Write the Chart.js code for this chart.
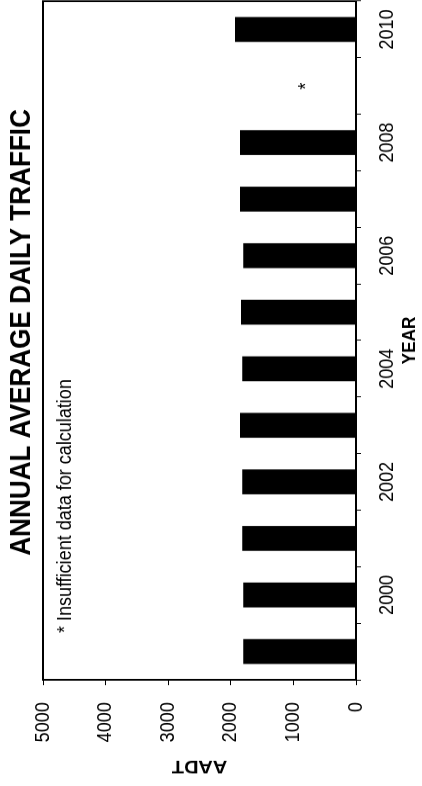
<!DOCTYPE html>
<html>
<head>
<meta charset="utf-8">
<script src="https://cdn.jsdelivr.net/npm/chart.js@4"></script>
<style>
  html, body { margin: 0; padding: 0; background: #fff; overflow: hidden; }
  #wrap {
    position: absolute;
    left: 0;
    top: 0;
    width: 873px;
    height: 422px;
    transform-origin: 0 0;
    /* chart is printed sideways and a bit squeezed along its width */
    transform: translate(0, 786px) rotate(-90deg) scaleX(0.9);
  }
</style>
</head>
<body>
<div id="wrap"><canvas id="aadtChart" width="873" height="422"></canvas></div>
<script>
// Data
const years = ["1999", "2000", "2001", "2002", "2003", "2004", "2005", "2006", "2007", "2008", "2009", "2010"];
const aadt = [1800, 1800, 1816, 1816, 1853, 1816, 1837, 1800, 1853, 1853, null, 1933];
const yTicks = [0, 1000, 2000, 3000, 4000, 5000];
const missingYear = "2009";
const missingMarkValue = 900;

const chartTitle = "ANNUAL AVERAGE DAILY TRAFFIC";
const noteText = "* Insufficient data for calculation";

const fontFamily = "'Liberation Sans', Arial, sans-serif";

// Box, title, note and the asterisk for the missing year
const extras = {
    id: "extras",
    afterDraw(chart) {
        const ctx = chart.ctx;
        const area = chart.chartArea;
        const x = chart.scales.x;
        const y = chart.scales.y;

        ctx.save();
        ctx.strokeStyle = "#000";
        ctx.lineWidth = 2;
        ctx.strokeRect(area.left, area.top, area.right - area.left, area.bottom - area.top);

        ctx.fillStyle = "#000";
        ctx.font = "bold 29px " + fontFamily;
        ctx.textAlign = "center";
        ctx.textBaseline = "middle";
        ctx.fillText(chartTitle, (area.left + area.right) / 2 + 9, 22);

        ctx.font = "20px " + fontFamily;
        ctx.textAlign = "left";
        ctx.fillText(noteText, area.left + 52, 65);

        ctx.textAlign = "center";
        ctx.textBaseline = "alphabetic";
        const mx = x.getPixelForValue(years.indexOf(missingYear));
        const my = y.getPixelForValue(missingMarkValue);
        ctx.fillText("*", mx, my + 12);
        ctx.restore();
    },
};

const ctx = document.getElementById("aadtChart").getContext("2d");
new Chart(ctx, {
    type: "bar",
    data: {
        labels: years,
        datasets: [
            {
                label: "AADT",
                data: aadt,
                backgroundColor: "#000",
                borderWidth: 0,
                categoryPercentage: 1.0,
                barPercentage: 0.44,
            },
        ],
    },
    options: {
        responsive: false,
        animation: false,
        devicePixelRatio: 1,
        layout: {
            padding: { top: 43, right: 1, left: 0, bottom: 0 },
        },
        plugins: {
            legend: { display: false },
            tooltip: { enabled: false },
        },
        scales: {
            x: {
                grid: {
                    offset: true,
                    drawOnChartArea: false,
                    drawTicks: true,
                    tickLength: 5,
                    color: "#000",
                },
                border: { display: false },
                ticks: {
                    autoSkip: false,
                    maxRotation: 0,
                    padding: 14,
                    color: "#000",
                    font: { size: 20, family: fontFamily },
                    // only even years get a label
                    callback: function (value) {
                        const label = this.getLabelForValue(value);
                        return Number(label) % 2 === 0 ? label : "";
                    },
                },
                title: {
                    display: true,
                    text: "YEAR",
                    color: "#000",
                    padding: { top: 0, bottom: 1 },
                    font: { size: 19, weight: "bold", family: fontFamily },
                },
                afterFit(scale) {
                    scale.height = 66;
                    // labels fit inside their categories, no side padding needed
                    scale.paddingLeft = 0;
                    scale.paddingRight = 0;
                },
            },
            y: {
                min: 0,
                max: 5000,
                grid: {
                    drawOnChartArea: false,
                    drawTicks: true,
                    tickLength: 6,
                    color: "#000",
                },
                border: { display: false },
                afterBuildTicks(scale) {
                    scale.ticks = yTicks.map(v => ({ value: v }));
                },
                ticks: {
                    padding: 19,
                    color: "#000",
                    font: { size: 20, family: fontFamily },
                    callback: value => String(value),
                },
                title: {
                    display: true,
                    text: "AADT",
                    color: "#000",
                    padding: { top: 10, bottom: 0 },
                    font: { size: 20, weight: "bold", family: fontFamily },
                },
                afterFit(scale) {
                    scale.width = 118;
                },
            },
        },
    },
    plugins: [extras],
});
</script>
</body>
</html>
